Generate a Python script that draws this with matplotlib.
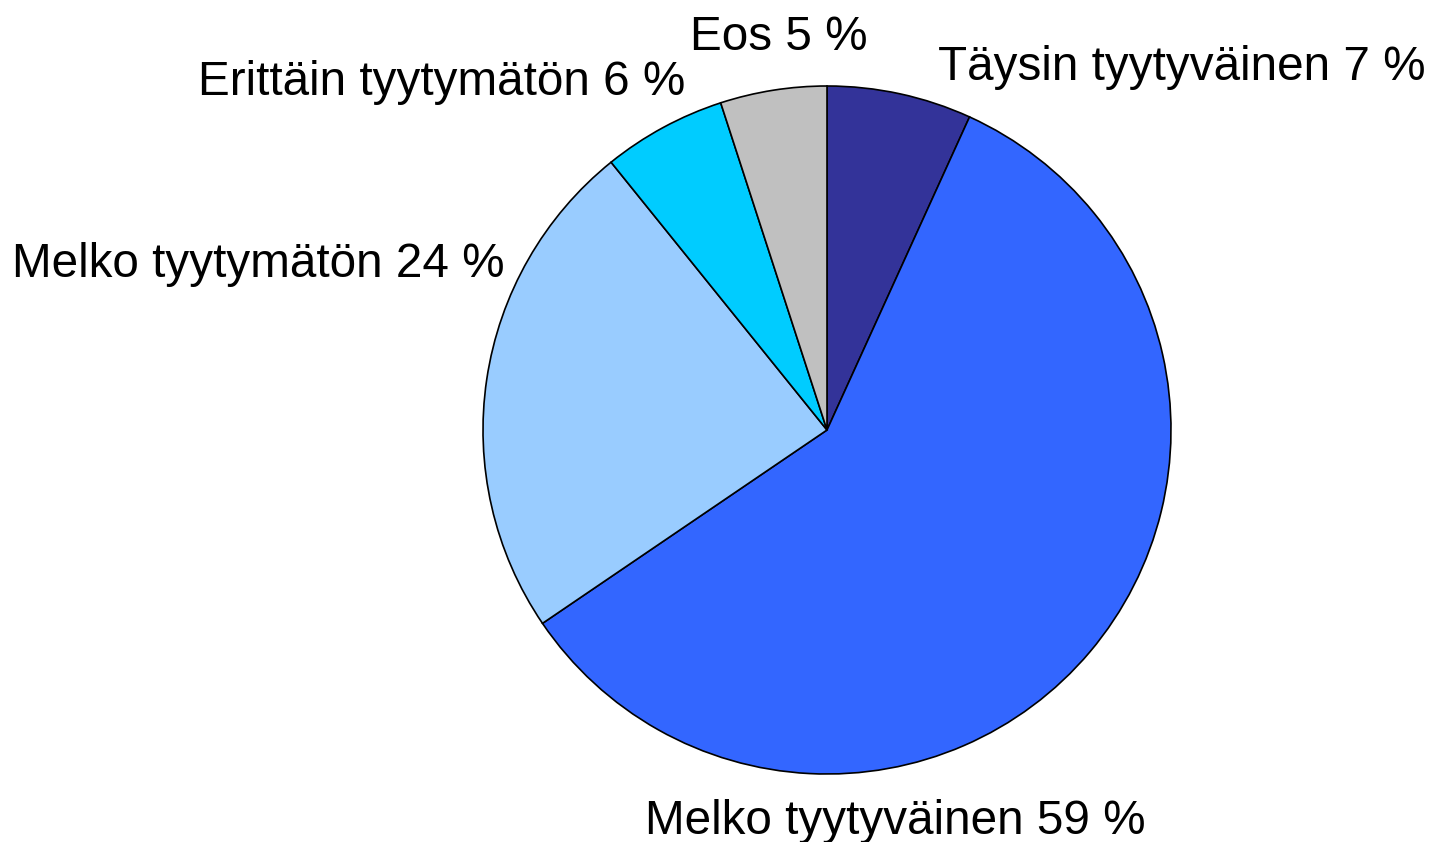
import matplotlib.pyplot as plt

plt.rcParams['font.family'] = ['Liberation Sans', 'DejaVu Sans']

# slices, clockwise from 12 o'clock
labels = ['Täysin tyytyväinen', 'Melko tyytyväinen', 'Melko tyytymätön',
          'Erittäin tyytymätön', 'Eos']
values = [6.8, 58.7, 23.7, 5.8, 5.0]
shown_pct = [7, 59, 24, 6, 5]
colors = ['#333399', '#3366FF', '#99CCFF', '#00CCFF', '#C0C0C0']

W, H = 1433, 842
fig = plt.figure(figsize=(W / 100, H / 100), dpi=100)

# pie centre (827, 430) px, radius 344 px
cx, cy, r = 827, 430, 344
ax = fig.add_axes([(cx - r) / W, (H - cy - r) / H, 2 * r / W, 2 * r / H])
ax.pie(values, colors=colors, startangle=90, counterclock=False,
       wedgeprops=dict(edgecolor='black', linewidth=1.2))
ax.set_xlim(-1, 1)
ax.set_ylim(-1, 1)
ax.set_aspect('equal')
ax.axis('off')

# label anchors (left x, baseline y) in pixels
label_pos = [(938, 80), (645, 834), (12, 277), (198, 95), (690, 50)]
for lab, p, (x, y) in zip(labels, shown_pct, label_pos):
    fig.text(x / W, 1 - y / H, f'{lab} {p} %', fontsize=34.3,
             ha='left', va='baseline', color='black')

fig.savefig('out.png', dpi=100)
